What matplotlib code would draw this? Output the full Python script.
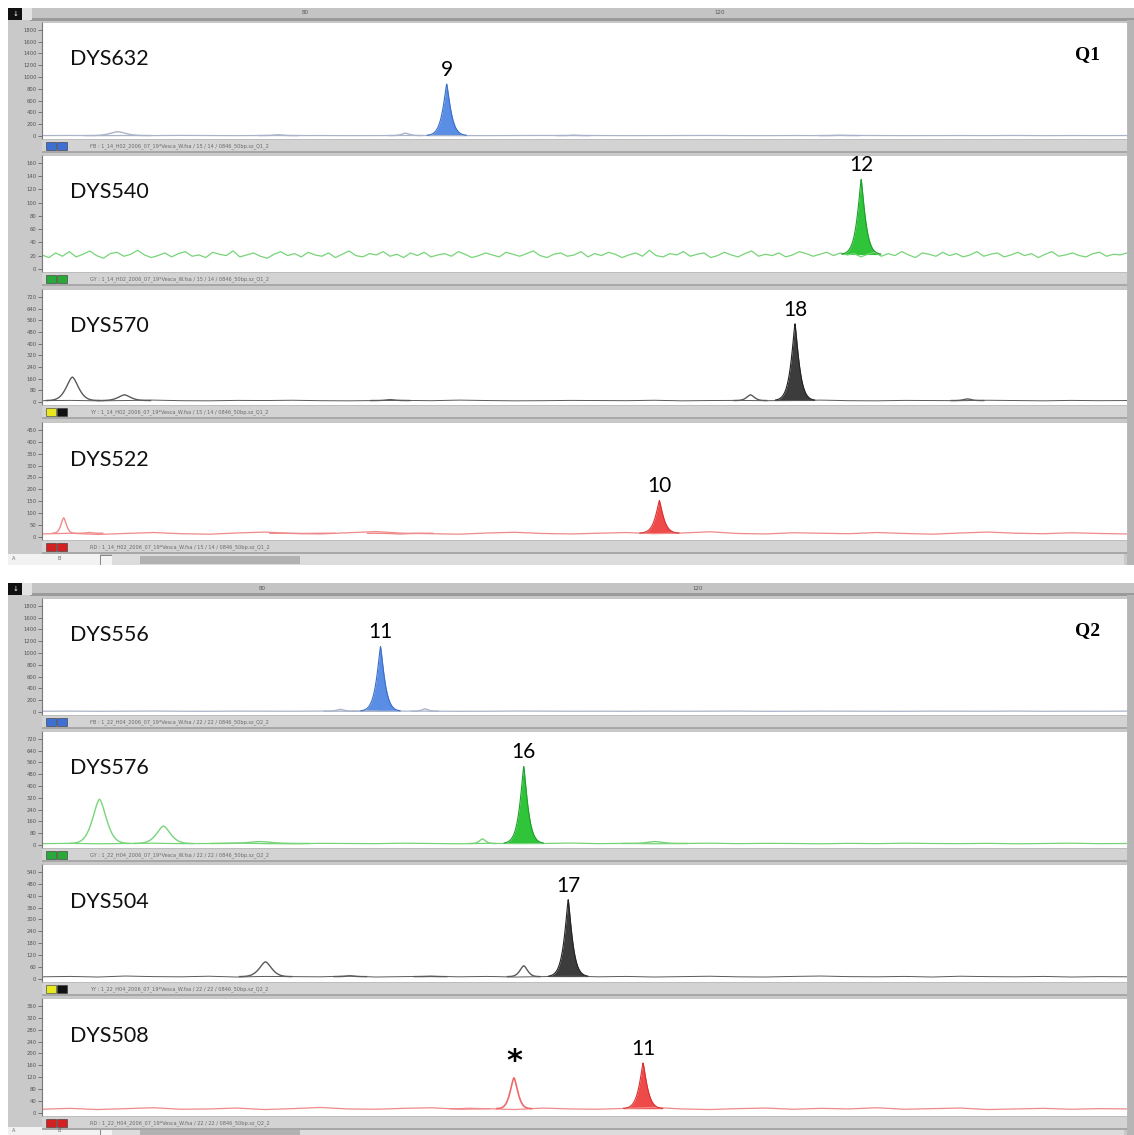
import numpy as np
import matplotlib.pyplot as plt
from matplotlib.patches import Rectangle

W, H = 1134, 1135

# x positions are in scan units, 0..1000 across each panel
groups = ["Q1", "Q2"]
markers = ["DYS632", "DYS540", "DYS570", "DYS522", "DYS556", "DYS576", "DYS504", "DYS508"]
dyes = ["blue", "green", "black", "red", "blue", "green", "black", "red"]
y_max = [1800, 160, 720, 450, 1800, 720, 540, 360]
y_step = [200, 20, 80, 50, 200, 80, 60, 40]

allele_labels = ["9", "12", "18", "10", "11", "16", "17", "11"]
allele_pos = [373, 755, 694, 569, 312, 444, 485, 554]
allele_height = [880, 135, 535, 153, 1110, 532, 400, 168]

# unlabelled / stutter peaks: (position, height, width)
minor_peaks = [
    [(70, 70, 10), (218, 18, 6), (335, 45, 5), (490, 12, 5), (735, 10, 6)],
    [],
    [(28, 170, 8), (76, 48, 8), (321, 15, 6), (653, 48, 5), (853, 20, 5)],
    [(20, 80, 3.5), (44, 18, 4), (240, 14, 10), (330, 12, 10)],
    [(275, 40, 5), (298, 20, 4), (353, 50, 4)],
    [(53, 310, 9), (112, 128, 9), (201, 22, 15), (406, 40, 4), (565, 22, 10)],
    [(206, 86, 8), (284, 15, 5), (358, 12, 5), (444, 66, 5)],
    [(394, 15, 6)],
]
star_pos, star_height = 435, 118

# baseline readings along each trace
base_632 = [4, 6, 3, 5, 4, 7, 5, 3, 6, 4, 5, 3, 4, 6, 5, 4, 3, 5, 6, 4,
            5, 3, 4, 5, 6, 4, 3, 5, 4, 6, 5, 3, 4, 5, 4, 6, 3, 5, 4, 5]
base_540 = [21, 17, 24, 19, 26, 18, 22, 27, 20, 16, 23, 25, 19, 22, 28, 21, 17, 20, 24, 18,
            23, 26, 19, 21, 17, 25, 22, 20, 27, 18, 21, 24, 19, 16, 22, 26, 20, 23, 18, 25,
            21, 19, 24, 17, 22, 27, 20, 18, 23, 21, 26, 19, 22, 17, 24, 20, 25, 18, 21, 23,
            19, 26, 22, 17, 20, 24, 21, 18, 25, 22, 19, 23, 27, 20, 17, 22, 24, 19, 21, 26,
            18, 23, 20, 25, 22, 17, 21, 24, 19, 28, 20, 18, 23, 21, 26, 19, 22, 24, 17, 20,
            25, 21, 18, 23, 27, 19, 22, 20, 24, 18, 21, 26, 23, 19, 22, 25, 20, 24, 21, 23,
            18, 22, 25, 19, 23, 20, 26, 21, 17, 24, 22, 19, 25, 20, 23, 18, 21, 26, 19, 22,
            24, 18, 21, 25, 20, 23, 17, 22, 26, 19, 21, 24, 20, 18, 23, 25, 19, 22, 21, 24]
base_570 = [8, 10, 7, 9, 12, 8, 7, 10, 9, 11, 8, 7, 9, 10, 8, 12, 9, 7, 8, 10,
            9, 8, 11, 7, 9, 10, 8, 9, 12, 8, 7, 10, 9, 8, 11, 9, 7, 10, 8, 9]
base_522 = [12, 15, 10, 14, 18, 13, 11, 16, 20, 14, 12, 17, 22, 15, 13, 11, 16, 19, 14, 12,
            15, 18, 13, 16, 21, 14, 12, 17, 15, 13, 18, 14, 11, 16, 20, 15, 13, 17, 14, 12]
base_556 = [10, 12, 9, 11, 13, 10, 9, 12, 11, 10, 13, 9, 10, 12, 11, 9, 10, 13, 12, 10,
            11, 9, 12, 10, 11, 13, 9, 10, 12, 11, 10, 9, 12, 11, 10, 13, 9, 11, 10, 12]
base_576 = [8, 10, 7, 9, 11, 8, 9, 12, 8, 7, 10, 9, 8, 11, 9, 7, 10, 8, 9, 12,
            8, 10, 7, 9, 11, 8, 10, 9, 7, 10, 8, 11, 9, 8, 10, 7, 9, 11, 8, 9]
base_504 = [10, 12, 9, 14, 11, 10, 13, 9, 12, 11, 10, 14, 9, 11, 13, 10, 12, 9, 11, 14,
            10, 12, 9, 11, 13, 10, 9, 12, 14, 11, 10, 12, 9, 13, 11, 10, 12, 9, 11, 10]
base_508 = [12, 15, 11, 14, 17, 12, 13, 16, 11, 14, 18, 13, 12, 15, 17, 12, 14, 11, 16, 13,
            12, 15, 18, 13, 11, 14, 16, 12, 15, 13, 17, 12, 14, 16, 11, 13, 15, 12, 14, 13]
baselines = [base_632, base_540, base_570, base_522, base_556, base_576, base_504, base_508]

run_names = [
    "FB : 1_14_H02_2006_07_19*Vesca_W.fsa / 15 / 14 / 0846_50bp.sz_Q1_2",
    "GY : 1_14_H02_2006_07_19*Vesca_W.fsa / 15 / 14 / 0846_50bp.sz_Q1_2",
    "YY : 1_14_H02_2006_07_19*Vesca_W.fsa / 15 / 14 / 0846_50bp.sz_Q1_2",
    "RD : 1_14_H02_2006_07_19*Vesca_W.fsa / 15 / 14 / 0846_50bp.sz_Q1_2",
    "FB : 1_22_H04_2006_07_19*Vesca_W.fsa / 22 / 22 / 0846_50bp.sz_Q2_2",
    "GY : 1_22_H04_2006_07_19*Vesca_W.fsa / 22 / 22 / 0846_50bp.sz_Q2_2",
    "YY : 1_22_H04_2006_07_19*Vesca_W.fsa / 22 / 22 / 0846_50bp.sz_Q2_2",
    "RD : 1_22_H04_2006_07_19*Vesca_W.fsa / 22 / 22 / 0846_50bp.sz_Q2_2",
]
header_ticks = [["80", "120"], ["80", "120"]]
header_tick_px = [[305, 720], [262, 698]]

fill_col = {"blue": "#5a8de4", "green": "#2fc43a", "black": "#3c3c3c", "red": "#ee4a4a"}
edge_col = {"blue": "#3b6cc8", "green": "#1d9e2a", "black": "#222222", "red": "#d83030"}
line_col = {"blue": "#aab4c8", "green": "#78d478", "black": "#5a5a5a", "red": "#f08a8a"}
chip_col = {"blue": ["#3d6fd4", "#3d6fd4"], "green": ["#2aa83a", "#2aa83a"],
            "black": ["#e8e820", "#111111"], "red": ["#d42020", "#d42020"]}

# screen layout (pixels)
group_top = [8, 583]
group_bottom = [565, 1135]
panel_boxes = [(22, 139), (155, 272), (289, 405), (422, 540),
               (598, 715), (731, 848), (864, 982), (998, 1116)]
px_left, px_right = 42, 1127

fig = plt.figure(figsize=(W / 100, H / 100), dpi=100)
fig.patch.set_facecolor("white")

bg = fig.add_axes([0, 0, 1, 1])
bg.set_xlim(0, W)
bg.set_ylim(H, 0)
bg.axis("off")

for g in range(2):
    top, bot = group_top[g], group_bottom[g]
    bg.add_patch(Rectangle((8, top), W - 8, bot - top, color="#c9c9c9", lw=0))
    # header bar
    bg.add_patch(Rectangle((8, top), W - 8, 12, color="#c4c4c4", lw=0))
    bg.add_patch(Rectangle((30, top + 10), W - 30, 3, color="#9a9a9a", lw=0))
    bg.add_patch(Rectangle((8, top), 14, 12, color="#111111", lw=0))
    bg.add_patch(Rectangle((22, top), 10, 12, color="#e2e2e2", lw=0))
    bg.text(16, top + 6, "↓", color="white", fontsize=5, ha="center", va="center")
    for lbl, xp in zip(header_ticks[g], header_tick_px[g]):
        bg.text(xp, top + 5, lbl, fontsize=4, color="#555555", ha="center", va="center")
    bg.add_patch(Rectangle((W - 7, top + 12), 7, bot - top - 12, color="#b5b5b5", lw=0))
    # scroll bar row
    sy = min(panel_boxes[4 * g + 3][1] + 14, H - 8)
    bg.add_patch(Rectangle((8, sy), 92, 12, color="#f2f2f2", lw=0))
    bg.text(12, sy + 4, "A", fontsize=3.6, color="#666666", va="center")
    bg.text(58, sy + 4, "B", fontsize=3.6, color="#666666", va="center")
    bg.add_patch(Rectangle((100, sy + 1), 12, 10, facecolor="#f4f4f4", edgecolor="#777777", lw=0.6))
    bg.add_patch(Rectangle((112, sy), W - 122, 12, color="#dcdcdc", lw=0))
    bg.add_patch(Rectangle((140, sy + 2), 160, 8, color="#b2b2b2", lw=0))

bg.add_patch(Rectangle((0, 565), W, 18, color="white", lw=0))

for i, name in enumerate(markers):
    top, bot = panel_boxes[i]
    dye = dyes[i]
    ymax = y_max[i]

    # status bar under the panel
    bg.add_patch(Rectangle((px_left, bot + 1), px_right - px_left, 12, color="#d3d3d3", lw=0))
    bg.add_patch(Rectangle((px_left, bot + 12), px_right - px_left, 2, color="#a8a8a8", lw=0))
    for k, c in enumerate(chip_col[dye]):
        bg.add_patch(Rectangle((46 + 11 * k, bot + 3), 10, 8, facecolor=c, edgecolor="#333333", lw=0.4))
    bg.text(90, bot + 7, run_names[i], fontsize=3.6, color="#6a6a6a", va="center")

    ax = fig.add_axes([px_left / W, 1 - bot / H, (px_right - px_left) / W, (bot - top) / H])
    ax.set_facecolor("white")
    ax.set_xlim(0, 1000)
    ax.set_ylim(-0.03 * ymax, ymax * 1.075)
    ax.set_yticks(np.arange(0, ymax + 1, y_step[i]))
    ax.set_xticks([])
    ax.tick_params(axis="y", labelsize=3.8, labelcolor="#555555", colors="#666666",
                   length=3, width=0.6, pad=1)
    for s in ["top", "right", "bottom"]:
        ax.spines[s].set_color("#bbbbbb")
        ax.spines[s].set_linewidth(0.6)
    ax.spines["left"].set_color("#777777")
    ax.spines["left"].set_linewidth(0.8)

    base = np.array(baselines[i], dtype=float)
    bx = np.linspace(0, 1000, len(base))
    ax.plot(bx, base, color=line_col[dye], lw=0.9 if dye != "black" else 0.7)
    level = base.mean()

    for pos, h, w in minor_peaks[i]:
        x = np.linspace(pos - 3 * w, pos + 3 * w, 61)
        y = level + (h - level) * np.exp(-(np.abs(x - pos) / w) ** 1.6)
        ax.plot(x, y, color=line_col[dye], lw=1.0)

    if i == 7:
        x = np.linspace(star_pos - 16, star_pos + 16, 81)
        y = level + (star_height - level) * np.exp(-(np.abs(x - star_pos) / 5.0) ** 1.5)
        ax.plot(x, y, color="#ee6a6a", lw=1.2)
        ax.annotate("*", (star_pos, star_height), xytext=(0, 1), textcoords="offset points",
                    ha="center", va="bottom", fontsize=22, fontweight="bold", family="DejaVu Sans")

    pos, h = allele_pos[i], allele_height[i]
    x = np.linspace(pos - 18, pos + 18, 121)
    y = level + (h - level) * np.exp(-(np.abs(x - pos) / 5.0) ** 1.25)
    ax.fill_between(x, level, y, color=fill_col[dye], lw=0)
    ax.plot(x, y, color=edge_col[dye], lw=0.8)
    ax.annotate(allele_labels[i], (pos, h), xytext=(0, 3), textcoords="offset points",
                ha="center", va="bottom", fontsize=15, family="Lato")

    ax.text(0.026, 0.68, name, transform=ax.transAxes, fontsize=15.5, family="Lato",
            va="center", ha="left", color="#111111")
    if i % 4 == 0:
        ax.text(0.964, 0.72, groups[i // 4], transform=ax.transAxes, fontsize=14,
                family="Liberation Serif", fontweight="bold", va="center", ha="center")

fig.savefig("out.png", dpi=100)
